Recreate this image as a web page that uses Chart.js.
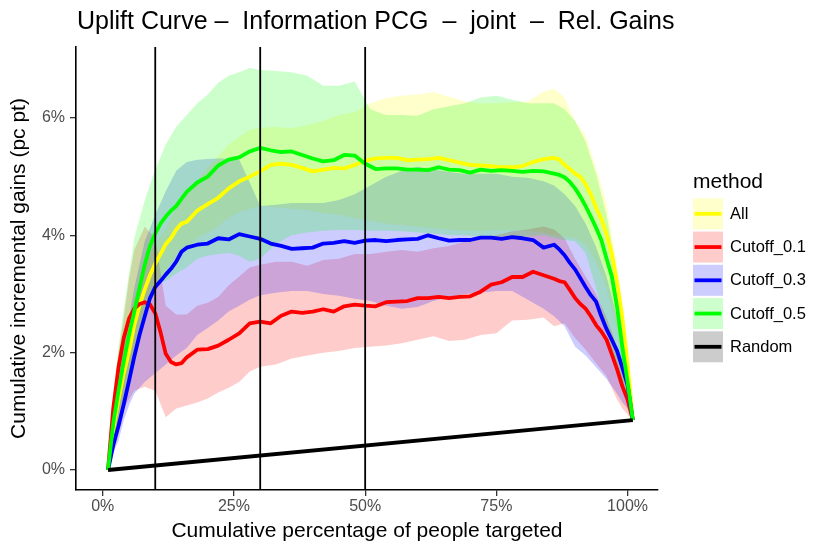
<!DOCTYPE html>
<html>
<head>
<meta charset="utf-8">
<script src="https://cdn.jsdelivr.net/npm/chart.js@4.4.1/dist/chart.umd.min.js"></script>
<style>
  html, body { margin: 0; padding: 0; background: #fff; }
  #wrap { width: 830px; height: 554px; }
</style>
</head>
<body>
<div id="wrap"><canvas id="myChart"></canvas></div>
<script>
// x positions (cumulative % targeted) for the mean curves
const lineX = [1,2,3,4,5,6,7,8,9,10,11,12,13,14,15,16,
  18,20,22,24,26,28,30,32,34,36,38,40,42,44,46,48,50,52,54,56,58,60,62,64,66,68,70,72,74,76,78,80,82,84,86,
  87,88,89,90,91,92,93,94,95,96,97,98,99,100,101];

const allMean = [0,0.7,1.2,1.65,2.02,2.47,2.8,3.08,3.32,3.52,3.68,3.85,3.95,4.1,4.2,4.23,
  4.42,4.53,4.64,4.8,4.92,5.0,5.09,5.2,5.22,5.2,5.15,5.09,5.12,5.15,5.14,5.2,5.27,5.31,5.32,5.32,5.28,5.29,5.3,5.32,5.28,5.24,5.2,5.19,5.18,5.16,5.16,5.18,5.25,5.3,5.32,
  5.29,5.2,5.13,5.05,5.0,4.87,4.7,4.47,4.28,4.02,3.68,3.2,2.6,1.8,0.85];
const cut01Mean = [0,1.05,1.75,2.25,2.58,2.75,2.83,2.86,2.82,2.67,2.35,1.98,1.84,1.80,1.82,1.92,
  2.05,2.06,2.12,2.22,2.33,2.50,2.53,2.50,2.63,2.70,2.68,2.70,2.74,2.70,2.79,2.82,2.80,2.79,2.86,2.87,2.88,2.93,2.93,2.95,2.93,2.95,2.96,3.04,3.16,3.20,3.29,3.29,3.38,3.32,3.26,
  3.22,3.20,3.07,2.93,2.83,2.75,2.62,2.47,2.36,2.22,1.97,1.72,1.43,1.20,0.85];
const cut03Mean = [0,0.42,0.75,1.12,1.52,1.93,2.3,2.62,2.93,3.12,3.22,3.33,3.43,3.55,3.72,3.79,
  3.84,3.86,3.95,3.93,4.02,3.98,3.94,3.86,3.82,3.77,3.78,3.79,3.86,3.87,3.90,3.87,3.91,3.92,3.90,3.92,3.93,3.94,4.0,3.95,3.91,3.92,3.92,3.96,3.96,3.94,3.97,3.95,3.92,3.79,3.84,
  3.76,3.66,3.53,3.42,3.27,3.12,2.98,2.87,2.62,2.40,2.22,2.03,1.75,1.45,0.85];
const cut05Mean = [0,0.8,1.35,1.85,2.3,2.7,3.1,3.5,3.82,4.03,4.2,4.32,4.42,4.5,4.62,4.74,
  4.9,5.0,5.19,5.29,5.33,5.43,5.49,5.45,5.42,5.43,5.37,5.31,5.26,5.28,5.37,5.36,5.22,5.13,5.14,5.14,5.12,5.12,5.11,5.16,5.12,5.11,5.07,5.12,5.10,5.11,5.10,5.08,5.10,5.09,5.05,
  5.03,4.99,4.91,4.8,4.66,4.5,4.32,4.13,3.92,3.6,3.3,2.78,2.1,1.5,0.85];

// x positions for the confidence ribbons
const ribX = [1,2,3,4,5,6,8,10,12,14,16,18,20,22,24,26,28,30,33,36,39,42,45,48,51,54,57,60,63,66,69,72,75,78,81,84,86,88,90,92,94,96,98,99,100,101];

const allHi = [0,0.9,1.5,2.0,2.45,2.9,3.45,3.85,4.1,4.5,4.8,4.93,5.15,5.35,5.55,5.68,5.8,5.83,5.85,5.82,5.88,5.95,6.05,6.1,6.25,6.34,6.38,6.4,6.44,6.36,6.28,6.25,6.25,6.27,6.28,6.45,6.5,6.35,5.95,5.7,5.15,4.55,3.5,2.85,2.1,0.85];
const allLo = [0,0.5,0.9,1.3,1.6,2.0,2.6,3.05,3.4,3.65,3.8,3.95,4.05,4.15,4.3,4.4,4.45,4.5,4.48,4.45,4.43,4.38,4.35,4.3,4.25,4.2,4.17,4.15,4.12,4.1,4.08,4.08,4.09,4.09,4.08,4.05,4.0,3.98,3.95,3.85,3.55,3.1,2.4,1.9,1.45,0.85];
const cut01Hi = [0,1.2,2.0,2.6,3.25,3.75,4.15,3.95,2.8,2.65,2.65,2.8,2.85,2.95,3.15,3.3,3.45,3.5,3.55,3.55,3.48,3.58,3.6,3.68,3.68,3.72,3.75,3.72,3.78,3.82,3.9,3.95,4.0,4.07,4.1,4.15,4.1,3.95,3.6,3.3,3.0,2.6,2.1,1.75,1.4,0.85];
const cut01Lo = [0,0.5,0.85,1.05,1.2,1.35,1.42,1.35,0.9,1.05,1.1,1.15,1.22,1.32,1.4,1.5,1.68,1.76,1.8,1.9,1.95,2.0,2.03,2.08,2.1,2.12,2.16,2.22,2.28,2.2,2.22,2.3,2.33,2.55,2.56,2.6,2.45,2.5,2.25,2.05,1.82,1.6,1.2,1.05,0.95,0.85];
const cut03Hi = [0,1.0,1.6,2.1,2.6,3.1,3.9,4.35,4.75,5.1,5.25,5.29,5.3,5.31,5.31,5.29,4.9,4.5,4.52,4.55,4.55,4.55,4.6,4.7,4.85,5.0,5.1,5.17,5.12,5.08,5.05,5.05,5.05,5.0,4.98,4.92,4.85,4.7,4.5,4.2,3.8,3.3,2.6,2.2,1.7,0.85];
const cut03Lo = [0,0.3,0.5,0.85,1.1,1.3,1.5,1.65,1.8,1.95,2.08,2.3,2.42,2.55,2.7,2.8,2.9,2.98,3.02,3.05,3.05,3.0,2.97,2.92,2.88,2.8,2.75,2.78,2.88,2.95,3.0,3.02,3.05,3.05,2.9,2.75,2.62,2.45,2.1,1.95,1.75,1.55,1.3,1.15,1.05,0.85];
const cut05Hi = [0,1.3,2.1,2.75,3.35,3.95,4.6,5.12,5.55,5.85,6.05,6.25,6.4,6.6,6.72,6.78,6.85,6.82,6.8,6.78,6.72,6.55,6.55,6.62,6.15,6.05,6.05,6.04,6.15,6.2,6.25,6.35,6.38,6.31,6.25,6.25,6.25,6.15,5.95,5.6,5.05,4.35,3.35,2.5,1.8,0.85];
const cut05Lo = [0,0.4,0.75,1.15,1.5,1.9,2.6,3.15,3.22,3.35,3.45,3.6,3.65,3.68,3.7,3.65,3.55,3.6,3.85,4.0,4.05,4.08,4.09,4.09,4.08,4.08,4.07,4.05,4.03,4.0,4.0,3.98,3.98,3.98,3.98,4.0,3.95,3.92,3.9,3.7,3.1,2.4,1.7,1.4,1.15,0.85];

// random targeting baseline
const randomX = [1, 101];
const randomY = [0, 0.85];

// reference cut-offs
const vlineX = [10, 30, 50];

const methodNames = ['All', 'Cutoff_0.1', 'Cutoff_0.3', 'Cutoff_0.5', 'Random'];
const methodColors = ['#FFFF00', '#FF0000', '#0000FF', '#00FF00', '#000000'];

const xTicks = [0, 25, 50, 75, 100];
const yTicks = [0, 2, 4, 6];
const xMin = -5.1, xMax = 105.8;
const yMin = -0.341, yMax = 7.21;

const FONT = 'Liberation Sans, Arial, Helvetica, sans-serif';

function rgba(hex, a) {
  const n = parseInt(hex.slice(1), 16);
  return 'rgba(' + (n >> 16 & 255) + ',' + (n >> 8 & 255) + ',' + (n & 255) + ',' + a + ')';
}
const pts = (xs, ys) => xs.map((x, i) => ({x: x, y: ys[i]}));

const datasets = [];

// vertical reference lines (drawn on top)
vlineX.forEach(v => {
  datasets.push({
    data: [{x: v, y: yMin}, {x: v, y: yMax}],
    borderColor: '#000', borderWidth: 1.8, pointRadius: 0, fill: false, order: 0
  });
});

// mean lines: Random on top, then green, blue, red, yellow
const means = [allMean, cut01Mean, cut03Mean, cut05Mean];
datasets.push({
  data: pts(randomX, randomY), borderColor: methodColors[4], borderWidth: 3.8,
  pointRadius: 0, fill: false, order: 1, borderCapStyle: 'butt'
});
[3, 2, 1, 0].forEach((m, k) => {
  datasets.push({
    data: pts(lineX, means[m]), borderColor: methodColors[m], borderWidth: 3.8,
    pointRadius: 0, fill: false, tension: 0, borderJoinStyle: 'round',
    order: 2 + k
  });
});

// ribbons: All drawn first, Cutoff_0.5 last
const his = [allHi, cut01Hi, cut03Hi, cut05Hi];
const los = [allLo, cut01Lo, cut03Lo, cut05Lo];
[0, 1, 2, 3].forEach(m => {
  datasets.push({
    data: pts(ribX, his[m]), borderWidth: 0, pointRadius: 0,
    backgroundColor: rgba(methodColors[m], 0.2), fill: '+1', order: 20 - m
  });
  datasets.push({
    data: pts(ribX, los[m]), borderWidth: 0, pointRadius: 0, fill: false, order: 20 - m
  });
});

// title + legend, ggplot style
const ggExtras = {
  id: 'ggExtras',
  afterDraw(chart) {
    const ctx = chart.ctx;
    const area = chart.chartArea;
    ctx.save();
    ctx.fillStyle = '#000';
    ctx.textBaseline = 'alphabetic';
    ctx.textAlign = 'left';
    ctx.font = '25px ' + FONT;
    ctx.fillText('Uplift Curve –  Information PCG  –  joint  –  Rel. Gains', area.left + 1, 28.5);

    const lx = 693, top = 198.3, step = 33.25;
    ctx.font = '21px ' + FONT;
    ctx.fillText('method', lx, 188);
    ctx.font = '16.5px ' + FONT;
    methodNames.forEach((name, i) => {
      const y = top + i * step;
      ctx.fillStyle = rgba(methodColors[i], 0.2);
      ctx.fillRect(lx, y, 30, 31);
      ctx.strokeStyle = methodColors[i];
      ctx.lineWidth = 3.8;
      ctx.beginPath();
      ctx.moveTo(lx + 1.5, y + 15.5);
      ctx.lineTo(lx + 28.5, y + 15.5);
      ctx.stroke();
      ctx.fillStyle = '#000';
      ctx.textBaseline = 'middle';
      ctx.fillText(name, lx + 37, y + 16);
    });
    ctx.restore();
  }
};

const ctx = document.getElementById('myChart');
new Chart(ctx, {
  type: 'line',
  data: { datasets: datasets },
  plugins: [ggExtras],
  options: {
    responsive: true,
    maintainAspectRatio: false,
    animation: false,
    layout: { padding: { top: 47, right: 172, bottom: 0, left: 0 } },
    plugins: { legend: { display: false }, tooltip: { enabled: false } },
    scales: {
      x: {
        type: 'linear', min: xMin, max: xMax,
        afterBuildTicks: s => { s.ticks = xTicks.map(v => ({value: v})); },
        afterFit: s => { s.height = 64; },
        ticks: { callback: v => v + '%', color: '#4D4D4D', font: { family: FONT, size: 16 }, padding: 1, maxRotation: 0 },
        grid: { drawOnChartArea: false, drawTicks: true, tickLength: 6, color: '#333', lineWidth: 1.3 },
        border: { display: true, color: '#000', width: 1.6 },
        title: { display: true, text: 'Cumulative percentage of people targeted', color: '#000',
                 font: { family: FONT, size: 21, lineHeight: 1.2 }, padding: { top: 0, bottom: 10 } }
      },
      y: {
        min: yMin, max: yMax,
        afterBuildTicks: s => { s.ticks = yTicks.map(v => ({value: v})); },
        afterFit: s => { s.width = 76; },
        ticks: { callback: v => v + '%', color: '#4D4D4D', font: { family: FONT, size: 16 }, padding: 5 },
        grid: { drawOnChartArea: false, drawTicks: true, tickLength: 6, color: '#333', lineWidth: 1.3 },
        border: { display: true, color: '#000', width: 1.6 },
        title: { display: true, text: 'Cumulative incremental gains (pc pt)', color: '#000',
                 font: { family: FONT, size: 21, lineHeight: 1.2 }, padding: { top: 6.6, bottom: 0 } }
      }
    }
  }
});
</script>
</body>
</html>
